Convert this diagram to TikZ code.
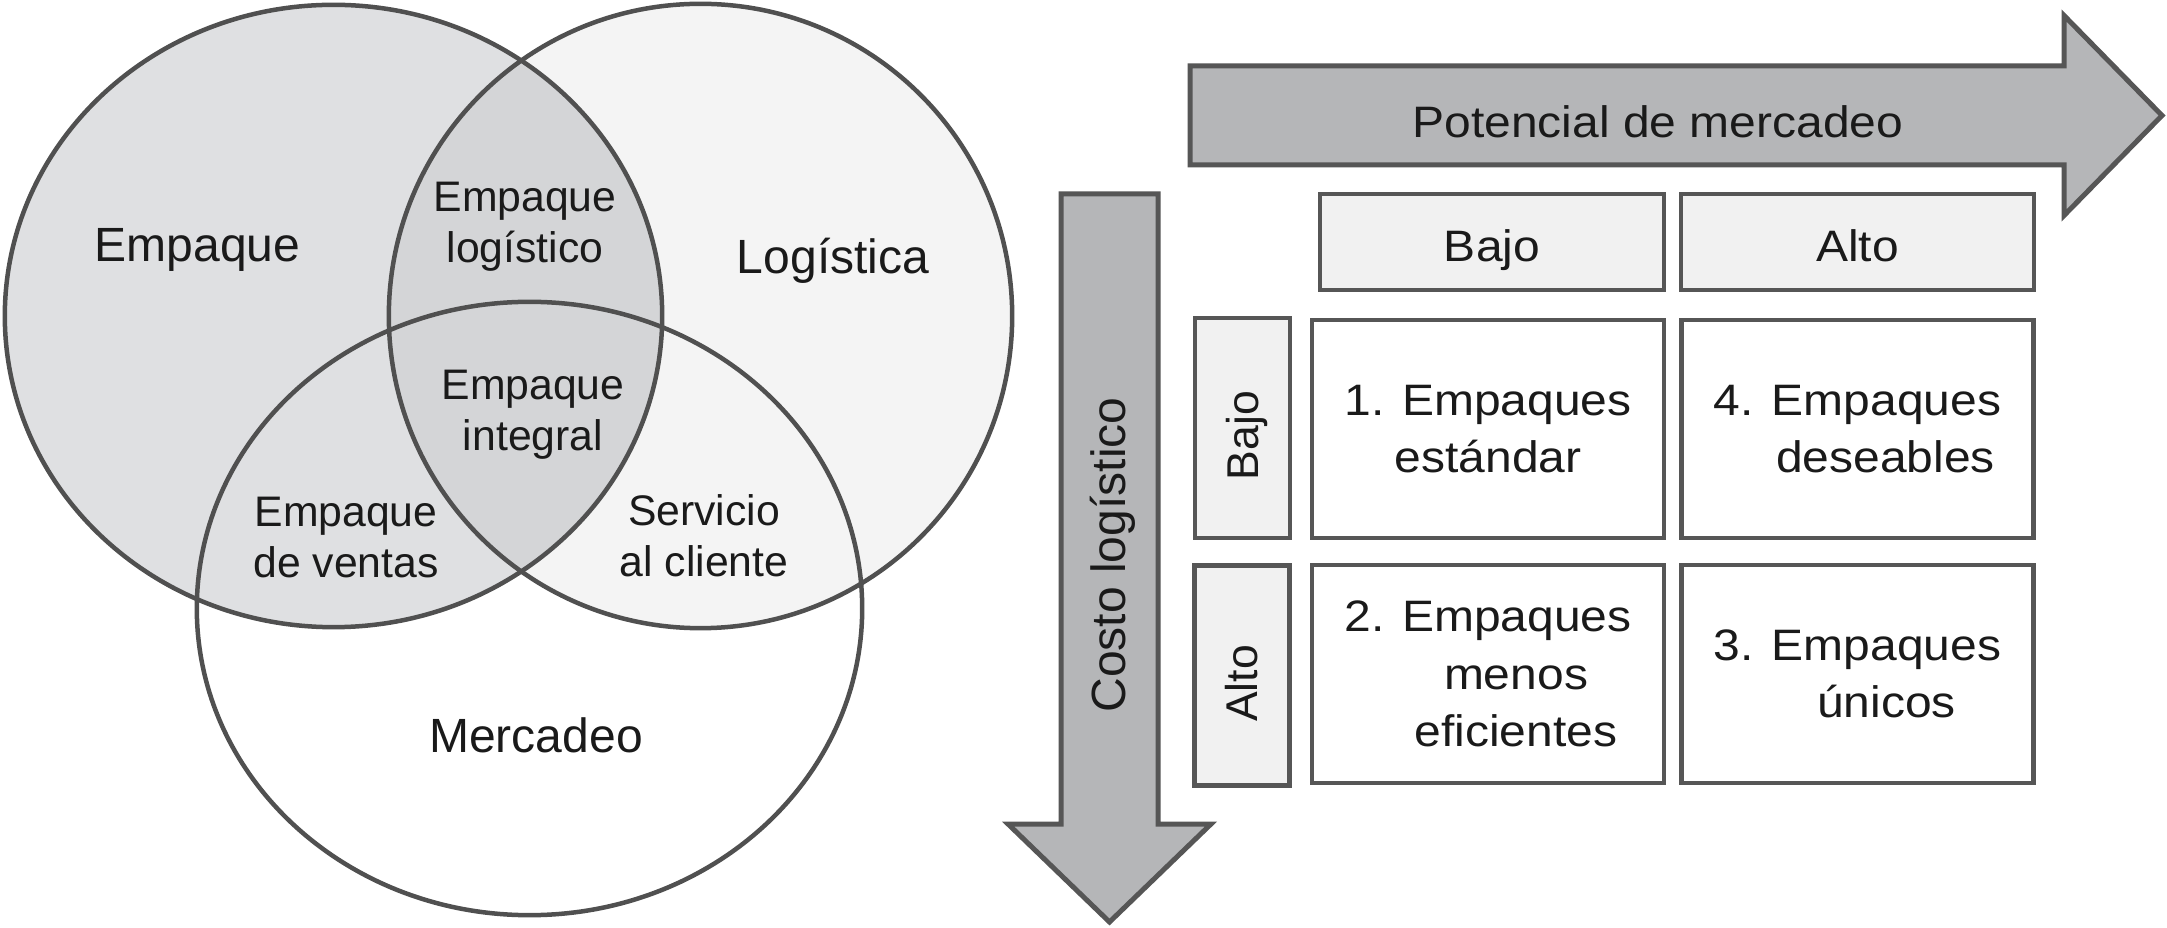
\documentclass[tikz,border=0pt]{standalone}
\usepackage{fontspec}
\setmainfont{Liberation Sans}
\newfontfamily\rfam[FakeStretch=1.09]{Liberation Sans}
\definecolor{vline}{HTML}{505050}
\definecolor{bline}{HTML}{565656}
\definecolor{txt}{HTML}{1A1A1A}
\definecolor{empfill}{HTML}{DFE0E2}
\definecolor{logfill}{HTML}{F4F4F4}
\definecolor{lensfill}{HTML}{D4D5D7}
\definecolor{arrowfill}{HTML}{B5B6B8}
\definecolor{headfill}{HTML}{F1F1F1}
\definecolor{rowfill}{HTML}{F1F1F1}
\begin{document}
\begin{tikzpicture}[x=0.01cm, y=-0.01cm,
  rEmp/.style={x radius=3.285cm, y radius=3.11cm},
  rLog/.style={x radius=3.115cm, y radius=3.12cm},
  rMer/.style={x radius=3.325cm, y radius=3.065cm},
  venn/.style={draw=vline, line width=0.045cm},
  biglab/.style={font=\fontsize{13.66pt}{16pt}\selectfont, text=txt, inner sep=0pt},
  smalllab/.style={font=\fontsize{12.15pt}{14.51pt}\selectfont, align=center, text=txt, inner sep=0pt},
  bigarrow/.style={draw=bline, line width=0.05cm, fill=arrowfill, line join=miter},
  rlabel/.style={font=\rfam\fontsize{12.52pt}{16.36pt}\selectfont, text=txt, inner sep=0pt},
  cellbox/.style={rlabel, draw=bline, line width=0.045cm, fill=white, minimum width=3.52cm, minimum height=2.18cm, align=center},
  headbox/.style={rlabel, draw=bline, line width=0.045cm, fill=headfill, minimum height=0.96cm, text height=0.38cm, text depth=0pt},
  rowbox/.style={draw=bline, line width=0.045cm, fill=rowfill, inner sep=0pt, rotate=90, minimum width=2.2cm, minimum height=0.95cm, font=\fontsize{12.66pt}{15pt}\selectfont, text=txt, text height=0.315cm, text depth=0pt},
  costolab/.style={font=\fontsize{13.66pt}{16pt}\selectfont, text=txt, inner sep=0pt, rotate=90, text height=0.344cm, text depth=0pt}
]
\useasboundingbox[fill=white] (0,0) rectangle (2167,928);

% ---------------- Venn diagram ----------------
\coordinate (cE) at (333.5,316);
\coordinate (cL) at (700.5,316);
\coordinate (cM) at (529.5,608.5);
\fill[empfill] (cE) ellipse [rEmp];
\fill[logfill] (cL) ellipse [rLog];
\begin{scope}
  \clip (cE) ellipse [rEmp];
  \fill[lensfill] (cL) ellipse [rLog];
\end{scope}
\draw[venn] (cE) ellipse [rEmp];
\draw[venn] (cL) ellipse [rLog];
\draw[venn] (cM) ellipse [rMer];

\node[biglab, anchor=base] (nEmp) at (197.5,261.7) {Empaque};
\node[biglab, anchor=base] (nLog) at (833,274) {Logística};
\node[biglab, anchor=base] (nMer) at (536,752) {Mercadeo};
\node[smalllab] (nEL) at (525,226.4) {Empaque\\logístico};
\node[smalllab] (nEI) at (533,414.7) {Empaque\\integral};
\node[smalllab] (nEV) at (346,537.5) {Empaque\\de ventas};
\node[smalllab] (nSC) at (704,535.4) {Servicio\\al cliente};

% ---------------- Matrix ----------------
\draw[bigarrow] (1190,66) -- (2064,66) -- (2064,15.5) -- (2162,115.5)
  -- (2064,215.5) -- (2064,165) -- (1190,165) -- cycle;
\draw[bigarrow] (1061,194) -- (1158,194) -- (1158,824) -- (1211,824)
  -- (1109.5,922) -- (1008,824) -- (1061,824) -- cycle;

\node[rlabel, anchor=base] (pot) at (1658,137.3) {Potencial de mercadeo};
\node[costolab] (costo) at (1108,555) {Costo logístico};

\node[headbox, minimum width=3.44cm] (hBajo) at (1492,242) {Bajo};
\node[headbox, minimum width=3.53cm] (hAlto) at (1857.5,242) {Alto};

\node[rowbox] (rBajo) at (1242.5,428) {Bajo\hspace*{0.15cm}};
\node[rowbox] (rAlto) at (1242,675.5) {Alto\hspace*{0.16cm}};

\node[cellbox] (c11) at (1488,429) {1. Empaques\\estándar};
\node[cellbox] (c12) at (1857.5,429) {4. Empaques\\\hspace*{0.56cm}deseables};
\node[cellbox] (c21) at (1488,674) {2. Empaques\\\hspace*{0.56cm}menos\\\hspace*{0.56cm}eficientes};
\node[cellbox] (c22) at (1857.5,674) {3. Empaques\\\hspace*{0.58cm}únicos};
\end{tikzpicture}
\end{document}
